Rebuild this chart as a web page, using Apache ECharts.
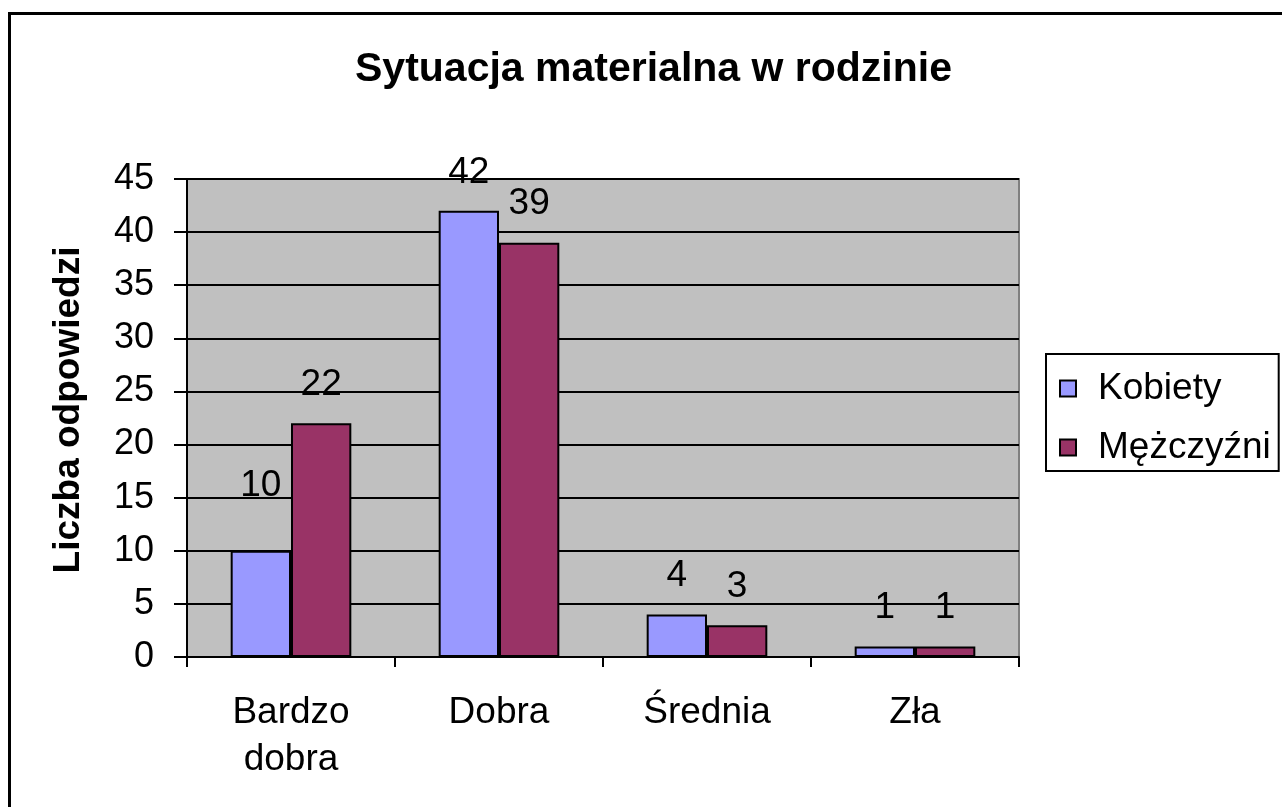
<!DOCTYPE html>
<html>
<head>
<meta charset="utf-8">
<script src="https://cdn.jsdelivr.net/npm/echarts@6/dist/echarts.min.js"></script>
<style>
  html,body{margin:0;padding:0;background:#fff;}
  #chart{width:1282px;height:807px;}
</style>
</head>
<body>
<div id="chart"></div>
<script>
  // dane wykresu
  var categories = ['Bardzo\ndobra', 'Dobra', 'Średnia', 'Zła'];
  var seriesNames = ['Kobiety', 'Mężczyźni'];
  var kobiety = [10, 42, 4, 1];
  var mezczyzni = [22, 39, 3, 1];
  var colors = ['#9999FF', '#993366'];

  var font = 'Liberation Sans, Arial, sans-serif';

  function barSeries(name, data, color){
    return {
      name: name,
      type: 'bar',
      barGap: '0%',
      barCategoryGap: '42%',
      data: data.map(function(v, i){
        var d = {value: v};
        // etykieta "10" w oryginale jest podniesiona wyżej
        if(name == 'Kobiety' && i == 0){
          d.label = {distance: 46};
        }
        return d;
      }),
      itemStyle: {color: color, borderColor: '#000', borderWidth: 2},
      label: {
        show: true,
        position: 'top',
        distance: 20,
        color: '#000',
        fontFamily: font,
        fontSize: 37
      },
      emphasis: {disabled: true}
    };
  }

  var myChart = echarts.init(document.getElementById('chart'));
  var option = {
    backgroundColor: '#fff',
    animation: false,
    title: {
      text: 'Sytuacja materialna w rodzinie',
      left: 350,
      top: 44,
      textStyle: {fontFamily: font, fontSize: 41, fontWeight: 'bold', color: '#000'}
    },
    legend: {
      orient: 'vertical',
      left: 1046,
      top: 354,
      padding: [16, 8, 5, 13],
      itemGap: 22,
      itemWidth: 16,
      itemHeight: 16,
      icon: 'rect',
      borderColor: '#000',
      borderWidth: 2,
      backgroundColor: '#fff',
      textStyle: {fontFamily: font, fontSize: 37, color: '#000', padding: [0, 0, 0, 17]},
      data: seriesNames
    },
    grid: {
      left: 187,
      top: 179,
      right: 263,
      bottom: 150,
      show: true,
      backgroundColor: '#C0C0C0',
      borderColor: '#808080',
      borderWidth: 2
    },
    xAxis: {
      type: 'category',
      data: categories,
      axisLine: {lineStyle: {color: '#000', width: 2}},
      axisTick: {show: true, length: 10, lineStyle: {color: '#000', width: 2}},
      axisLabel: {
        margin: 32,
        color: '#000',
        fontFamily: font,
        fontSize: 37,
        lineHeight: 47,
        interval: 0
      }
    },
    yAxis: {
      type: 'value',
      min: 0,
      max: 45,
      interval: 5,
      name: 'Liczba odpowiedzi',
      nameLocation: 'middle',
      nameRotate: 90,
      nameGap: 100,
      nameTextStyle: {fontFamily: font, fontSize: 37, fontWeight: 'bold', color: '#000', padding: [0, 0, 0, 16]},
      axisLine: {show: true, lineStyle: {color: '#000', width: 2}},
      axisTick: {show: true, length: 13, lineStyle: {color: '#000', width: 2}},
      axisLabel: {margin: 33, color: '#000', fontFamily: font, fontSize: 36},
      splitLine: {show: true, lineStyle: {color: '#000', width: 2}}
    },
    series: [
      barSeries(seriesNames[0], kobiety, colors[0]),
      barSeries(seriesNames[1], mezczyzni, colors[1])
    ],
    graphic: [
      {
        type: 'rect',
        silent: true,
        shape: {x: 9.5, y: 13.5, width: 1400, height: 900},
        style: {fill: 'none', stroke: '#000', lineWidth: 3},
        z: 100
      }
    ]
  };
  myChart.setOption(option);
</script>
</body>
</html>
